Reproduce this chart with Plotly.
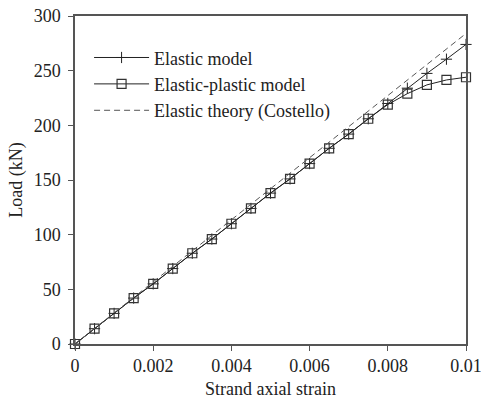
import plotly.graph_objects as go

strain = [0, 0.0005, 0.001, 0.0015, 0.002, 0.0025, 0.003, 0.0035, 0.004, 0.0045,
          0.005, 0.0055, 0.006, 0.0065, 0.007, 0.0075, 0.008, 0.0085, 0.009, 0.0095, 0.01]
elastic = [0, 14, 28, 42, 55, 69, 83, 96, 110, 124, 138, 151, 165, 179, 192, 206,
           220, 234, 247.5, 260.5, 274]
elastic_plastic = [0, 14, 28, 42, 55, 69, 83, 96, 110, 124, 138, 151, 165, 179, 192, 206,
                   219, 229, 237, 241.5, 244]
costello_x = [0, 0.01]
costello_y = [0, 284]

x_ticks = [0, 0.002, 0.004, 0.006, 0.008, 0.01]
x_ticktext = ["0", "0.002", "0.004", "0.006", "0.008", "0.01"]
y_ticks = [0, 50, 100, 150, 200, 250, 300]

font = "Liberation Serif, Times New Roman, serif"
fs = 18

fig = go.Figure()
fig.add_trace(go.Scatter(
    x=strain, y=elastic, name="Elastic model", mode="lines+markers", cliponaxis=False,
    line=dict(color="#222222", width=1),
    marker=dict(symbol="cross-thin-open", size=8, line=dict(color="#222222", width=1)),
))
fig.add_trace(go.Scatter(
    x=strain, y=elastic_plastic, name="Elastic-plastic model", mode="lines+markers", cliponaxis=False,
    line=dict(color="#222222", width=1),
    marker=dict(symbol="square-open", size=9, color="#333333", line=dict(color="#333333", width=1.2)),
))
fig.add_trace(go.Scatter(
    x=costello_x, y=costello_y, name="Elastic theory (Costello)", mode="lines",
    line=dict(color="#555555", width=1, dash="6px,4px"),
))

axis_common = dict(
    showline=True, linecolor="#555555", linewidth=1.5, mirror=True,
    ticks="outside", ticklen=5, tickcolor="#555555", tickwidth=1,
    showgrid=False, zeroline=False, automargin=False, ticklabeloverflow="allow",
    tickfont=dict(family=font, size=fs, color="#222222"),
)

fig.update_xaxes(range=[0, 0.01], tickvals=x_ticks, ticktext=x_ticktext,
                 title=dict(text="Strand axial strain", font=dict(family=font, size=fs, color="#222222"), standoff=7),
                 **axis_common)
fig.update_yaxes(range=[0, 300], tickvals=y_ticks, ticklabelstandoff=4,
                 title=dict(text="Load (kN)", font=dict(family=font, size=fs, color="#222222"), standoff=6),
                 **axis_common)

fig.update_layout(
    width=481, height=400,
    margin=dict(l=75, r=15, t=16, b=56),
    plot_bgcolor="white", paper_bgcolor="white",
    font=dict(family=font, size=fs, color="#222222"),
    showlegend=True,
    hovermode=False,
    legend=dict(x=0.036, y=0.929, xanchor="left", yanchor="top",
                bgcolor="rgba(0,0,0,0)", borderwidth=0,
                font=dict(family=font, size=fs, color="#222222"),
                tracegroupgap=0, itemwidth=55),
)

# remove the default page-body margin so the figure sits at the window's top-left corner
fig.write_html("out.html", config={"displayModeBar": False},
               post_script="document.body.style.margin='0';")
